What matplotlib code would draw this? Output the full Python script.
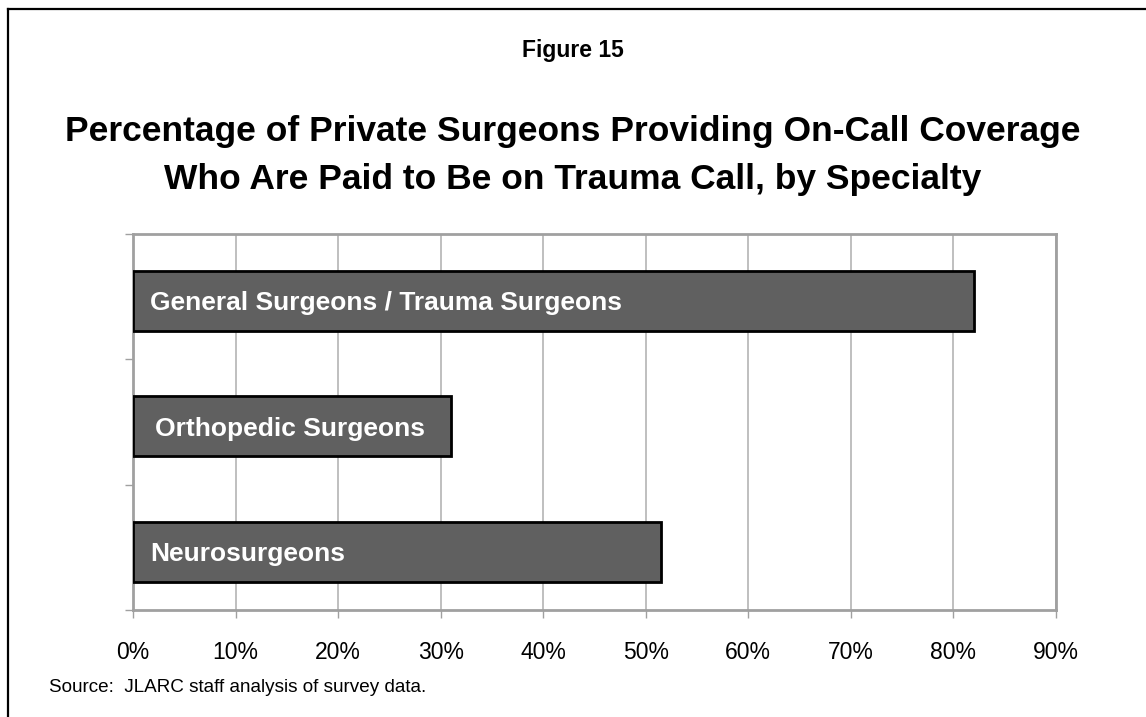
import matplotlib
matplotlib.use("Agg")
import matplotlib.pyplot as plt
from matplotlib.lines import Line2D
from matplotlib.ticker import FuncFormatter

# ====================================
# DATA
# ====================================

specialties = [
    "Neurosurgeons",
    "Orthopedic Surgeons",
    "General Surgeons / Trauma Surgeons",
]
pct_paid = [51.5, 31.0, 82.0]
x_ticks = [0, 10, 20, 30, 40, 50, 60, 70, 80, 90]

plt.rcParams['font.family'] = ['Liberation Sans', 'DejaVu Sans']

W, H = 1146, 717
fig = plt.figure(figsize=(W / 100, H / 100), dpi=100)
fig.patch.set_facecolor("white")

# frame lines around the figure (left and top only)
fig.add_artist(Line2D([7.5 / W, 7.5 / W], [0, 1 - 9 / H],
                      transform=fig.transFigure, color="black", lw=1.6))
fig.add_artist(Line2D([7.5 / W, 1], [1 - 9 / H, 1 - 9 / H],
                      transform=fig.transFigure, color="black", lw=1.6))

# ====================================
# TITLES
# ====================================

fig.text(573 / W, 1 - 50 / H, "Figure 15", ha="center", va="center",
         fontsize=16.5, fontweight="bold")
fig.text(573 / W, 1 - 132 / H,
         "Percentage of Private Surgeons Providing On-Call Coverage",
         ha="center", va="center", fontsize=25.5, fontweight="bold")
fig.text(573 / W, 1 - 180 / H,
         "Who Are Paid to Be on Trauma Call, by Specialty",
         ha="center", va="center", fontsize=25.5, fontweight="bold")

# ====================================
# BAR CHART
# ====================================

ax_l, ax_t, ax_r, ax_b = 133, 234, 1056, 610
ax = fig.add_axes([ax_l / W, 1 - ax_b / H, (ax_r - ax_l) / W, (ax_b - ax_t) / H])

# bars sit a little below the middle of each category band
ypos = [i - 0.035 for i in range(len(specialties))]
ax.barh(ypos, pct_paid, height=0.48, color="#606060",
        edgecolor="black", linewidth=2, zorder=3)

label_x = [1.7, 2.1, 1.7]
for y, x, name in zip(ypos, label_x, specialties):
    ax.text(x, y - 0.075, name, color="white", fontsize=19,
            fontweight="bold", va="baseline", ha="left", zorder=4)

ax.set_xlim(0, 90)
ax.set_ylim(-0.5, 2.5)
ax.set_xticks(x_ticks)
ax.xaxis.set_major_formatter(FuncFormatter(lambda v, p: f"{v:.0f}%"))
ax.set_yticks([-0.5, 0.5, 1.5, 2.5])
ax.set_yticklabels([])

ax.grid(axis="x", color="#b4b4b4", linewidth=1.2, zorder=0)
for side in ["left", "right", "top", "bottom"]:
    ax.spines[side].set_color("#a0a0a0")
    ax.spines[side].set_linewidth(2)

ax.tick_params(axis="x", length=6, width=1, color="#a0a0a0",
               labelsize=16.5, pad=16)
ax.tick_params(axis="y", length=6, width=1, color="#a0a0a0")

# ====================================
# SOURCE NOTE
# ====================================

fig.text(49 / W, 1 - 688 / H, "Source:  JLARC staff analysis of survey data.",
         ha="left", va="center", fontsize=13.6)

fig.savefig("out.png", dpi=100, facecolor="white")
